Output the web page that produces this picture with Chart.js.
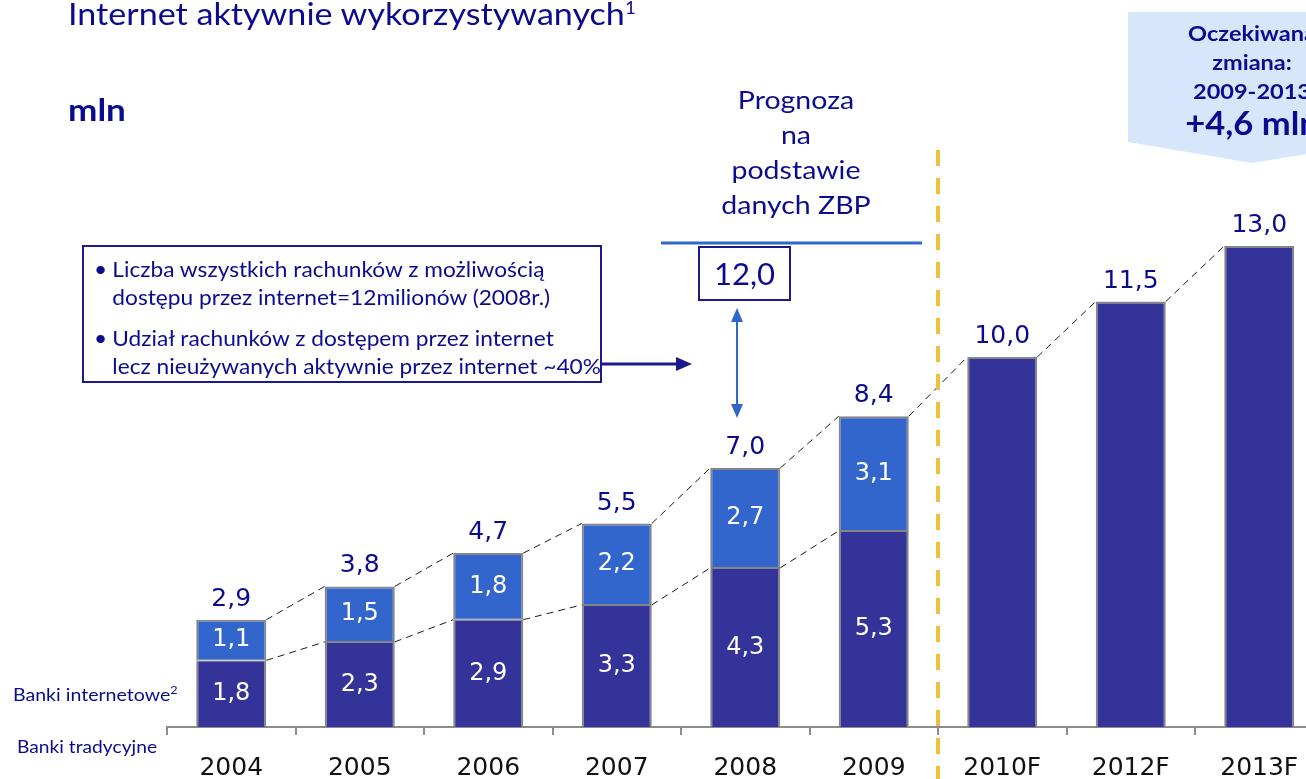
<!DOCTYPE html>
<html><head><meta charset="utf-8">
<script src="https://cdn.jsdelivr.net/npm/chart.js@4.4.1/dist/chart.umd.min.js"></script>
<style>
html,body{margin:0;padding:0;background:#fff;overflow:hidden;width:1306px;height:779px;}
#wrap{position:relative;width:1306px;height:779px;overflow:hidden;}
canvas{position:absolute;left:0;top:0;}
.t{position:absolute;color:#0B0B8E;font-family:Lato,"Noto Sans",sans-serif;white-space:nowrap;}
.sl{transform-origin:0 0;}
.sc{transform-origin:50% 0;}
.bl{position:relative;padding-left:17px;}
.bl:before{content:"•";position:absolute;left:0;}
svg{position:absolute;left:0;top:0;}
</style></head><body>
<div id="wrap">
<canvas id="c" width="1330" height="779"></canvas>
<svg width="1306" height="779">
  <polygon points="1128,12 1380,12 1380,142 1252,163 1128,142" fill="#D6E7FC"/>
  <rect x="83" y="246" width="518" height="136" fill="none" stroke="#1A1A8C" stroke-width="2"/>
  <line x1="601" y1="364" x2="678" y2="364" stroke="#1A1A8C" stroke-width="3"/>
  <polygon points="676,357 692,364 676,371" fill="#1A1A8C"/>
  <line x1="661" y1="243" x2="922" y2="243" stroke="#3366CC" stroke-width="3"/>
  <rect x="699" y="247" width="91" height="53" fill="#fff" stroke="#1A1A8C" stroke-width="2"/>
  <line x1="737" y1="318" x2="737" y2="408" stroke="#3366CC" stroke-width="2"/>
  <polygon points="731,322 737,308 743,322" fill="#3366CC"/>
  <polygon points="731,404 737,418 743,404" fill="#3366CC"/>
</svg>
<div class="t sl" style="left:68px;top:-11px;font-size:31px;line-height:37px;transform:scaleX(1.1);">Internet aktywnie wykorzystywanych<sup style="font-size:17px;">1</sup></div>
<div class="t sl" style="left:68px;top:91px;font-size:30px;font-weight:bold;line-height:36px;transform:scaleX(1.17);">mln</div>
<div class="t sc" style="left:1128px;top:18px;width:248px;text-align:center;font-weight:bold;font-size:21px;line-height:29px;transform:scaleX(1.12);">Oczekiwana<br>zmiana:<br>2009-2013</div>
<div class="t sc" style="left:1128px;top:104px;width:248px;text-align:center;font-weight:bold;font-size:32px;line-height:38px;transform:scaleX(1.08);">+4,6 mln</div>
<div class="t sc" style="left:676px;top:82px;width:240px;text-align:center;font-size:25px;line-height:35px;transform:scaleX(1.14);">Prognoza<br>na<br>podstawie<br>danych ZBP</div>
<div class="t" style="left:699px;top:254px;width:91px;text-align:center;font-size:31px;line-height:38px;">12,0</div>
<div class="t sl" style="left:94px;top:255px;font-size:21px;line-height:28px;transform:scaleX(1.08);"><div class="bl">Liczba wszystkich rachunków z możliwością<br>dostępu przez internet=12milionów (2008r.)</div></div>
<div class="t sl" style="left:94px;top:324px;font-size:21px;line-height:28px;transform:scaleX(1.08);"><div class="bl">Udział rachunków z dostępem przez internet<br>lecz nieużywanych aktywnie przez internet ~40%</div></div>
<div class="t sl" style="left:13px;top:679px;font-size:17px;line-height:22px;transform:scaleX(1.15);">Banki internetowe<sup style="font-size:11px;">2</sup></div>
<div class="t sl" style="left:17px;top:736px;font-size:17px;line-height:22px;transform:scaleX(1.13);">Banki tradycyjne</div>
</div>
<script>
const categories = ["2004","2005","2006","2007","2008","2009","2010F","2012F","2013F"];
const bottomValues = [1.8, 2.3, 2.9, 3.3, 4.3, 5.3, 10.0, 11.5, 13.0];
const topValues = [1.1, 1.5, 1.8, 2.2, 2.7, 3.1, null, null, null];
const totals = [2.9, 3.8, 4.7, 5.5, 7.0, 8.4, 10.0, 11.5, 13.0];
const historicalCount = 6;

const fmt = v => v.toFixed(1).replace('.', ',');

const overlay = {
  id: 'overlay',
  afterDatasetsDraw(chart) {
    const ctx = chart.ctx;
    const xs = chart.scales.x, ys = chart.scales.y;
    const m0 = chart.getDatasetMeta(0);
    const bw = m0.data[0].width;
    ctx.save();
    ctx.strokeStyle = '#1a1a1a';
    ctx.lineWidth = 1;
    ctx.setLineDash([7, 5]);
    for (let i = 0; i < categories.length - 1; i++) {
      const x1 = xs.getPixelForValue(i) + bw / 2, x2 = xs.getPixelForValue(i + 1) - bw / 2;
      ctx.beginPath();
      ctx.moveTo(x1, ys.getPixelForValue(totals[i]));
      ctx.lineTo(x2, ys.getPixelForValue(totals[i + 1]));
      ctx.stroke();
      if (i < historicalCount - 1) {
        ctx.beginPath();
        ctx.moveTo(x1, ys.getPixelForValue(bottomValues[i]));
        ctx.lineTo(x2, ys.getPixelForValue(bottomValues[i + 1]));
        ctx.stroke();
      }
    }
    const xs5 = (xs.getPixelForValue(historicalCount - 1) + xs.getPixelForValue(historicalCount)) / 2;
    ctx.strokeStyle = '#F3BE3A';
    ctx.lineWidth = 4;
    ctx.setLineDash([16, 12]);
    ctx.beginPath();
    ctx.moveTo(xs5, 150);
    ctx.lineTo(xs5, 779);
    ctx.stroke();
    ctx.setLineDash([]);
    ctx.textAlign = 'center';
    ctx.textBaseline = 'middle';
    ctx.fillStyle = '#fff';
    ctx.font = '24px "DejaVu Sans"';
    for (let i = 0; i < historicalCount; i++) {
      const x = xs.getPixelForValue(i);
      ctx.fillText(fmt(bottomValues[i]), x, ys.getPixelForValue(bottomValues[i] / 2));
      ctx.fillText(fmt(topValues[i]), x, ys.getPixelForValue(bottomValues[i] + topValues[i] / 2));
    }
    ctx.fillStyle = '#0B0B8E';
    ctx.font = '25px "DejaVu Sans"';
    ctx.textBaseline = 'alphabetic';
    for (let i = 0; i < categories.length; i++) {
      ctx.fillText(fmt(totals[i]), xs.getPixelForValue(i), ys.getPixelForValue(totals[i]) - 14);
    }
    ctx.restore();
  }
};

new Chart(document.getElementById('c'), {
  type: 'bar',
  data: {
    labels: categories,
    datasets: [
      { label: 'Banki internetowe', data: bottomValues, backgroundColor: '#333399', borderColor: '#858585',
        borderWidth: ctx => ({ left: 2, right: 2, bottom: 0, top: topValues[ctx.dataIndex] == null ? 2 : 1 }), borderSkipped: false },
      { label: 'Banki tradycyjne', data: topValues, backgroundColor: '#3366CC', borderColor: '#858585',
        borderWidth: { left: 2, right: 2, bottom: 1, top: 2 }, borderSkipped: false }
    ]
  },
  options: {
    responsive: false,
    animation: false,
    layout: { padding: { left: 167, right: 6.5, top: 24, bottom: 0 } },
    plugins: { legend: { display: false }, tooltip: { enabled: false } },
    datasets: { bar: { categoryPercentage: 1, barPercentage: 0.545 } },
    scales: {
      x: {
        stacked: true,
        grid: { display: true, drawOnChartArea: false, drawTicks: true, tickLength: 8, color: '#8C8C8C', lineWidth: 2, offset: true },
        border: { display: true, color: '#8C8C8C', width: 2 },
        ticks: { color: '#111', font: { family: 'DejaVu Sans', size: 25 }, padding: 18, maxRotation: 0 },
        afterFit: s => { s.height = 52; }
      },
      y: { stacked: true, display: false, min: 0, max: 19 }
    }
  },
  plugins: [overlay]
});
</script>
</body></html>
